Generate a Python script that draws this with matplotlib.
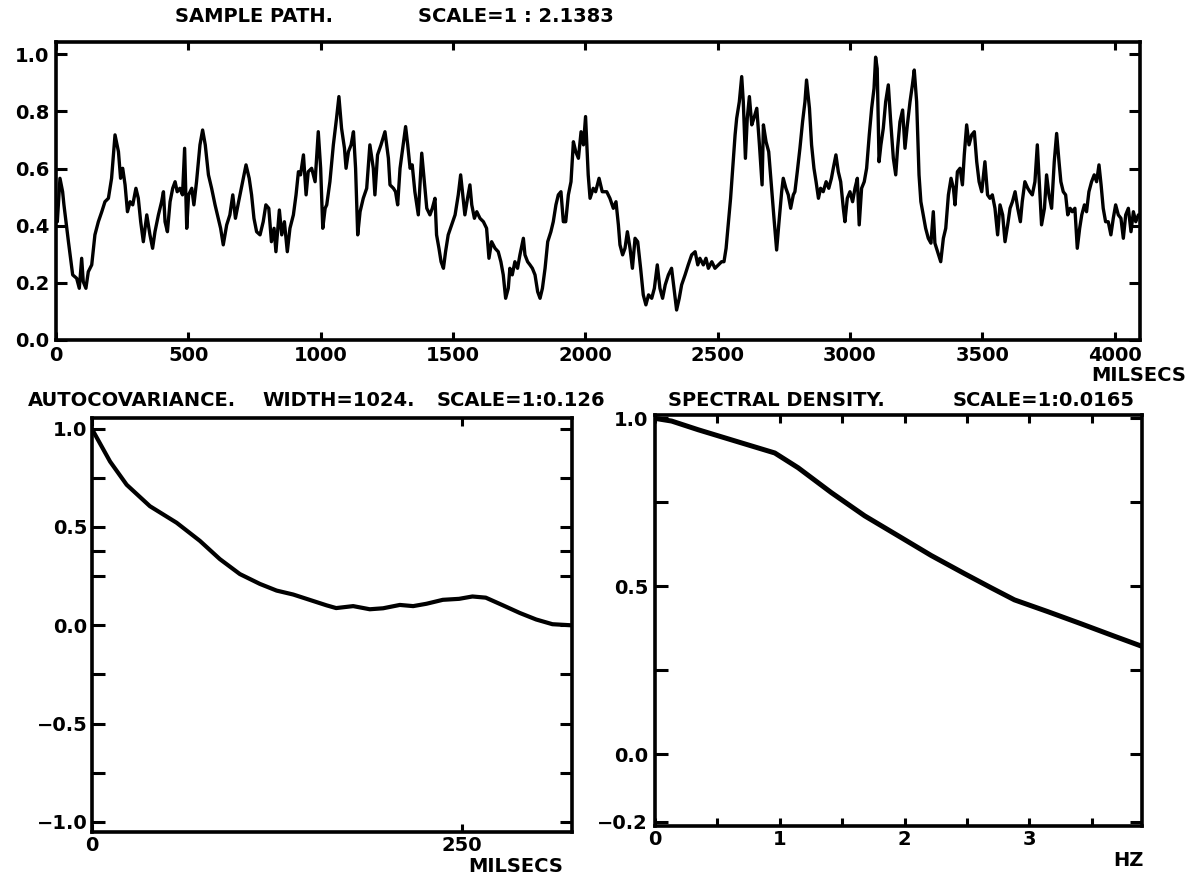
import matplotlib
matplotlib.use("Agg")
import matplotlib.pyplot as plt

# ---------------- data ----------------
path_t = [5, 15, 25, 30, 47, 63, 78, 88, 97, 103, 113, 122, 135, 147, 160, 173, 185, 198, 210, 223,
          236, 244, 252, 261, 270, 280, 290, 302, 311, 320, 330, 343, 355, 365, 374, 387, 399, 406, 412, 421,
          431, 441, 450, 458, 468, 478, 486, 494, 501, 513, 521, 531, 544, 554, 564, 576, 588, 601, 613, 622,
          632, 645, 657, 668, 678, 690, 705, 718, 730, 739, 748, 758, 771, 783, 793, 804, 814, 824, 831, 844,
          853, 863, 874, 884, 897, 907, 916, 924, 935, 945, 953, 966, 979, 991, 1000, 1008, 1017,
          1023, 1035, 1048, 1060, 1069, 1079, 1090, 1096, 1105, 1115, 1124, 1132, 1140, 1149, 1161, 1174, 1186, 1199, 1205, 1215,
          1228, 1243, 1256, 1262, 1275, 1283, 1291, 1300, 1312, 1321, 1329, 1338, 1346, 1356, 1369, 1382, 1392, 1401, 1413, 1422,
          1432, 1438, 1447, 1455, 1464, 1472, 1482, 1495, 1508, 1520, 1529, 1537, 1545, 1555, 1564, 1571, 1581, 1590, 1602, 1615,
          1627, 1636, 1646, 1659, 1671, 1681, 1690, 1699, 1709, 1715, 1724, 1734, 1744, 1753, 1766, 1772, 1782, 1791, 1800, 1810,
          1820, 1829, 1838, 1848, 1858, 1870, 1879, 1889, 1898, 1908, 1917, 1926, 1936, 1946, 1955, 1964, 1974, 1984, 1993, 2001,
          2011, 2018, 2030, 2039, 2052, 2064,
          2081, 2093, 2106, 2116, 2125, 2131, 2141, 2150, 2159, 2169, 2178, 2188, 2198, 2209, 2219, 2229, 2239, 2251, 2261, 2272,
          2282, 2292, 2302, 2314, 2326, 2335, 2345, 2355, 2364, 2377, 2389, 2402, 2415, 2425, 2433, 2446, 2456, 2465, 2478, 2490,
          2503, 2515, 2524, 2532, 2541, 2549, 2559, 2566, 2572, 2582, 2591, 2597, 2605, 2612, 2620, 2629, 2637, 2648, 2658, 2668,
          2673, 2683, 2693, 2704, 2713, 2723, 2732, 2742, 2748, 2758, 2767, 2776, 2786, 2792, 2801, 2811, 2821, 2830, 2836, 2847,
          2855, 2864, 2872, 2881, 2889, 2899, 2910, 2920, 2930, 2937, 2947, 2956, 2965, 2975, 2981, 2990, 3000, 3010, 3019, 3028,
          3035, 3044, 3054, 3063, 3073, 3082, 3091, 3097, 3103, 3110,
          3117, 3126, 3135, 3145, 3154, 3164, 3173, 3180, 3189, 3199, 3208, 3217, 3227, 3236, 3243, 3252, 3261, 3268, 3277, 3286,
          3296, 3306, 3315, 3321, 3331, 3343, 3353, 3362, 3372, 3382, 3391, 3397, 3406, 3416, 3425, 3432, 3441, 3450, 3460, 3470,
          3479, 3488, 3498, 3510, 3520, 3529, 3538, 3548, 3558, 3567, 3577, 3586, 3596, 3605, 3614, 3624, 3634, 3644, 3651, 3661,
          3672, 3680, 3689, 3699, 3708, 3716, 3724, 3735, 3743, 3752, 3762, 3772, 3781, 3790, 3797, 3806, 3815, 3823, 3832, 3840,
          3850, 3859, 3868, 3876, 3886, 3894, 3903, 3913, 3923, 3932, 3941, 3949, 3957, 3966, 3976, 3986, 3995, 4004, 4014, 4024,
          4033, 4042, 4052, 4062, 4071, 4080, 4090]
path_v = [.414, .566, .519, .473, .344, .228, .216, .181, .286, .204, .181, .239, .263, .368, .414, .449, .484, .496, .566, .718,
          .659, .566, .601, .543, .449, .484, .473, .531, .496, .414, .344, .438, .368, .321, .379, .438, .484, .519, .414, .379,
          .484, .531, .554, .519, .531, .508, .671, .391, .508, .531, .473, .554, .683, .735, .683, .578, .531, .473, .426, .391,
          .333, .403, .438, .508, .426, .484, .554, .613, .566, .508, .426, .379, .368, .414, .473, .461, .344, .391, .309, .455,
          .368, .414, .309, .391, .438, .508, .589, .578, .648, .508, .589, .601, .554, .729, .601, .391, .461,
          .473, .554, .683, .776, .852, .741, .671, .601, .659, .683, .729, .601, .368, .449, .496, .531, .683, .601, .508, .648,
          .683, .729, .636, .543, .531, .519, .473, .601, .683, .747, .683, .601, .613, .519, .438, .654, .554, .461, .438, .461,
          .496, .368, .321, .274, .251, .309, .368, .403, .438, .508, .578, .508, .438, .496, .543, .473, .426, .449, .426, .414,
          .391, .286, .344, .321, .309, .274, .228, .146, .181, .251, .228, .274, .251, .298, .356, .298, .274, .263, .251, .228,
          .169, .146, .181, .251, .344, .379, .414, .473, .508, .519, .414, .414, .508, .554, .694, .659, .636, .729, .683, .782,
          .578, .496, .531, .519, .566, .519,
          .519, .496, .461, .484, .403, .333, .298, .321, .379, .321, .251, .356, .344, .251, .158, .123, .158, .146, .181, .263,
          .181, .146, .193, .228, .251, .181, .105, .146, .193, .228, .263, .298, .309, .263, .286, .263, .286, .251, .274, .251,
          .263, .274, .274, .321, .414, .496, .624, .718, .776, .834, .922, .834, .636, .776, .852, .753, .776, .811, .683, .543,
          .753, .694, .659, .531, .426, .315, .414, .519, .566, .531, .508, .461, .508, .519, .589, .671, .764, .834, .910, .811,
          .683, .601, .554, .496, .531, .519, .554, .531, .566, .601, .648, .589, .554, .461, .414, .496, .519, .484, .531, .566,
          .403, .531, .554, .601, .718, .811, .881, .990, .950, .624,
          .683, .741, .834, .893, .764, .636, .578, .671, .764, .805, .671, .753, .834, .893, .945, .834, .578, .484, .438, .391,
          .356, .339, .449, .339, .309, .274, .356, .391, .508, .566, .531, .473, .589, .601, .543, .648, .753, .683, .718, .729,
          .624, .554, .519, .624, .508, .496, .508, .461, .368, .473, .438, .344, .403, .461, .484, .519, .461, .414, .484, .554,
          .531, .519, .508, .554, .683, .543, .403, .461, .578, .508, .461, .624, .723, .624, .554, .519, .508, .438, .461, .449,
          .461, .321, .391, .438, .473, .449, .519, .554, .578, .554, .613, .543, .461, .414, .414, .368, .426, .473, .438, .426,
          .356, .438, .461, .379, .449, .414, .438]

acov_lag = [0, 12.4, 23.6, 39.3, 57.3, 73, 86.5, 100, 113.5, 124.8, 136, 149.5, 158.5, 165, 176.5,
            187.7, 196.7, 208, 217, 226, 237, 248, 257, 266, 277.6, 289, 300, 311, 322.6]
acov_val = [1.0, 0.832, 0.714, 0.605, 0.521, 0.429, 0.336, 0.26, 0.21, 0.176, 0.156, 0.123, 0.101, 0.087, 0.097,
            0.081, 0.086, 0.103, 0.097, 0.109, 0.129, 0.134, 0.146, 0.14, 0.101, 0.062, 0.029, 0.005, 0.0]

spec_hz = [0, 0.133, 0.347, 0.613, 0.96, 1.147, 1.413, 1.68, 1.947, 2.213, 2.48, 2.693, 2.88, 3.147, 3.413, 3.68, 3.9]
spec_val = [1.0, 0.992, 0.966, 0.936, 0.897, 0.853, 0.779, 0.71, 0.651, 0.592, 0.538, 0.496, 0.46, 0.425, 0.389, 0.352, 0.322]

path_xticks = [0, 500, 1000, 1500, 2000, 2500, 3000, 3500, 4000]
path_yticks = [0.0, 0.2, 0.4, 0.6, 0.8, 1.0]
acov_xticks = [0, 250]
acov_yticks = [-1.0, -0.5, 0.0, 0.5, 1.0]
acov_yminor = [-0.75, -0.25, 0.25, 0.375, 0.75]
spec_xticks = [0, 1, 2, 3]
spec_xminor = [0.5, 1.5, 2.5, 3.5]
spec_yticks = [-0.2, 0.0, 0.5, 1.0]
spec_yminor = [0.25, 0.75]

# ---------------- figure ----------------
plt.rcParams['font.family'] = ['DejaVu Sans']
plt.rcParams['font.weight'] = 'bold'
W, H = 1188, 876
fig = plt.figure(figsize=(W / 100, H / 100), dpi=100, facecolor='white')


def rect(l, t, r, b):
    return [l / W, 1 - b / H, (r - l) / W, (b - t) / H]


def fx(px):
    return px / W


def fy(py):
    return 1 - py / H


def fmt(v):
    return ('\u2212' if v < 0 else '') + '%.1f' % abs(v)


def style(ax):
    for s in ax.spines.values():
        s.set_linewidth(2.6)
    ax.tick_params(which='both', direction='in', top=True, right=True, width=2.2,
                   labelsize=14, colors='black')
    for lab in ax.get_xticklabels() + ax.get_yticklabels():
        lab.set_fontweight('bold')


TXT = dict(fontsize=14, fontweight='bold', color='black', va='center')

# ---- sample path ----
ax1 = fig.add_axes(rect(56, 42.3, 1140, 340))
ax1.plot(path_t, path_v, color='black', lw=2.4, solid_joinstyle='round', solid_capstyle='round')
ax1.set_xlim(0, 4096)
ax1.set_ylim(0, 1.042)
ax1.set_xticks(path_xticks)
ax1.set_xticklabels([str(v) for v in path_xticks])
ax1.set_yticks(path_yticks)
ax1.set_yticklabels([fmt(v) for v in path_yticks])
style(ax1)
ax1.tick_params(axis='x', length=6, pad=4)
ax1.tick_params(axis='y', length=8, pad=5)

fig.text(fx(175), fy(16), 'SAMPLE PATH.', ha='left', **TXT)
fig.text(fx(418), fy(16), 'SCALE=1 : 2.1383', ha='left', **TXT)
fig.text(fx(1186), fy(375), 'MILSECS', ha='right', **TXT)

# ---- autocovariance ----
ax2 = fig.add_axes(rect(91.7, 417.7, 571.7, 831.7))
ax2.plot(acov_lag, acov_val, color='black', lw=3.0, solid_joinstyle='round')
ax2.set_xlim(0, 324)
ax2.set_ylim(-1.05, 1.055)
ax2.set_xticks(acov_xticks)
ax2.set_xticklabels([str(v) for v in acov_xticks])
ax2.set_yticks(acov_yticks)
ax2.set_yticklabels([fmt(v) for v in acov_yticks])
ax2.set_yticks(acov_yminor, minor=True)
style(ax2)
ax2.tick_params(axis='x', which='both', length=6, pad=3)
ax2.tick_params(axis='y', which='both', length=9, pad=3)

fig.text(fx(28), fy(400), 'AUTOCOVARIANCE.', ha='left', **TXT)
fig.text(fx(262), fy(400), 'WIDTH=1024.', ha='left', **TXT)
fig.text(fx(437), fy(400), 'SCALE=1:0.126', ha='left', **TXT)
fig.text(fx(516), fy(866), 'MILSECS', ha='center', **TXT)

# ---- spectral density ----
ax3 = fig.add_axes(rect(655, 415, 1141.7, 825.7))
ax3.plot(spec_hz, spec_val, color='black', lw=3.6, solid_joinstyle='round')
ax3.set_xlim(0, 3.9)
ax3.set_ylim(-0.212, 1.01)
ax3.set_xticks(spec_xticks)
ax3.set_xticklabels([str(v) for v in spec_xticks])
ax3.set_xticks(spec_xminor, minor=True)
ax3.set_yticks(spec_yticks)
ax3.set_yticklabels([fmt(v) for v in spec_yticks])
ax3.set_yticks(spec_yminor, minor=True)
style(ax3)
ax3.tick_params(axis='x', which='both', length=6, pad=3)
ax3.tick_params(axis='y', which='both', length=9, pad=5)

fig.text(fx(668), fy(400), 'SPECTRAL DENSITY.', ha='left', **TXT)
fig.text(fx(953), fy(400), 'SCALE=1:0.0165', ha='left', **TXT)
fig.text(fx(1113), fy(860), 'HZ', ha='left', **TXT)

fig.savefig('out.png', dpi=100, facecolor='white')
